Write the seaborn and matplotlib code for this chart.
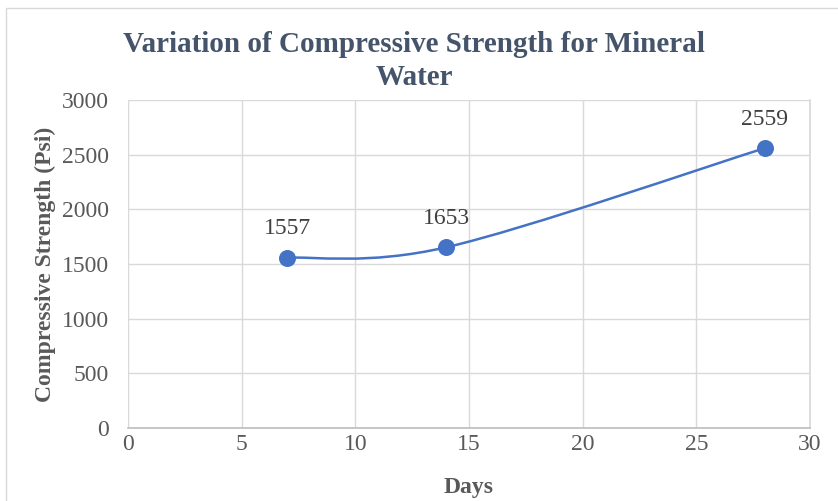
import numpy as np
import pandas as pd
import seaborn as sns
import matplotlib.pyplot as plt
from matplotlib.path import Path
from matplotlib.patches import PathPatch, Rectangle

# data
days = [7, 14, 28]
strength = [1557, 1653, 2559]
x_ticks = [0, 5, 10, 15, 20, 25, 30]
y_ticks = [0, 500, 1000, 1500, 2000, 2500, 3000]

df = pd.DataFrame({"Days": days, "Strength": strength})

sns.set_theme(style="white")
plt.rcParams['font.family'] = ['Liberation Serif', 'DejaVu Serif']

line_col = "#4472C4"
text_col = "#595959"
title_col = "#44546A"

dpi = 100
fig = plt.figure(figsize=(838 / dpi, 501 / dpi), dpi=dpi)
ax = fig.add_axes([128 / 838, 1 - 428 / 501, (810 - 128) / 838, (428 - 100) / 501])

# Excel-like smoothed line: cubic Bezier through the points (Catmull-Rom control points)
pts = df[["Days", "Strength"]].to_numpy(dtype=float)
ext = np.vstack([pts[0], pts, pts[-1]])
verts = [tuple(pts[0])]
codes = [Path.MOVETO]
for i in range(1, len(ext) - 2):
    p0, p1, p2, p3 = ext[i - 1], ext[i], ext[i + 1], ext[i + 2]
    c1 = p1 + (p2 - p0) / 6
    c2 = p2 - (p3 - p1) / 6
    verts += [tuple(c1), tuple(c2), tuple(p2)]
    codes += [Path.CURVE4] * 3
ax.add_patch(PathPatch(Path(verts, codes), fill=False, edgecolor=line_col, lw=1.8, zorder=3))

sns.scatterplot(data=df, x="Days", y="Strength", ax=ax, s=150, color=line_col,
                edgecolor=line_col, linewidth=0, zorder=4, legend=False)

for d, s in zip(days, strength):
    ax.annotate(f"{s}", (d, s), xytext=(0, 17), textcoords="offset points",
                ha="center", va="baseline", fontsize=17, color="#404040")

ax.set_xlim(0, 30)
ax.set_ylim(0, 3000)
ax.set_xticks(x_ticks)
ax.set_yticks(y_ticks)
ax.grid(True, color="#D9D9D9", lw=1)
ax.set_axisbelow(True)
for side in ["top", "left"]:
    ax.spines[side].set_visible(False)
ax.spines["right"].set_color("#D9D9D9")
ax.spines["bottom"].set_color("#BFBFBF")
ax.tick_params(axis="both", length=0, labelsize=17, labelcolor=text_col)
ax.tick_params(axis="x", pad=4)
ax.tick_params(axis="y", pad=14)

ax.set_xlabel("Days", fontsize=17, fontweight="bold", color=text_col, labelpad=16)
ax.set_ylabel("Compressive Strength (Psi)", fontsize=17, fontweight="bold", color=text_col, labelpad=4)

fig.text(414 / 838, 1 - 45 / 501, "Variation of Compressive Strength for Mineral",
         ha="center", va="center", fontsize=21, fontweight="bold", color=title_col)
fig.text(414 / 838, 1 - 77 / 501, "Water",
         ha="center", va="center", fontsize=21, fontweight="bold", color=title_col)

fig.patches.append(Rectangle((6 / 838, -0.05), 1.0, 1 - 8 / 501 + 0.05, transform=fig.transFigure,
                             fill=False, edgecolor="#D9D9D9", lw=1))

fig.savefig("out.png", dpi=dpi)
